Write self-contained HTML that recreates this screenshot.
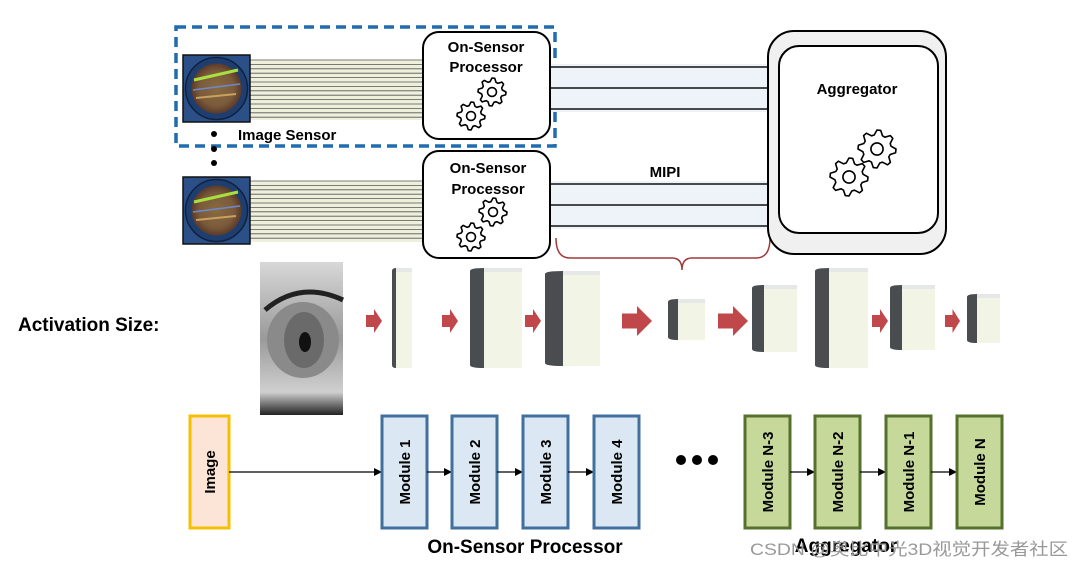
<!DOCTYPE html>
<html><head><meta charset="utf-8"><style>
html,body{margin:0;padding:0;background:#fff;}
svg{display:block;font-family:"Liberation Sans",Arial,sans-serif;}
</style></head><body>
<svg id="s" width="1080" height="566" viewBox="0 0 1080 566" xmlns="http://www.w3.org/2000/svg">
<defs>
<linearGradient id="eyeg" x1="0" y1="0" x2="0" y2="1">
<stop offset="0" stop-color="#d8d8d8"/><stop offset="0.5" stop-color="#9a9a9a"/><stop offset="0.85" stop-color="#cfcfcf"/><stop offset="1" stop-color="#222"/></linearGradient>
<radialGradient id="wafer" cx="0.5" cy="0.5" r="0.5">
<stop offset="0" stop-color="#8a6a40"/><stop offset="0.7" stop-color="#7a5a3a"/><stop offset="1" stop-color="#5a3a2a"/></radialGradient>
<marker id="ar" markerWidth="8" markerHeight="8" refX="7" refY="4" orient="auto" markerUnits="userSpaceOnUse"><path d="M0,0 L8,4 L0,8 z" fill="#000"/></marker>
</defs>

<g id="wires"></g>

<rect x="176" y="27" width="379" height="119" fill="none" stroke="#1f6db0" stroke-width="3.5" stroke-dasharray="10,6"/>

<g>
<rect x="183" y="55" width="67" height="67" fill="#2b4f87" stroke="#111" stroke-width="1.5"/>
<circle cx="216.5" cy="88.5" r="31" fill="#1f3e70" stroke="#0f2240" stroke-width="1.5"/>
<circle cx="216.5" cy="88.5" r="25" fill="url(#wafer)"/>
<path d="M194,80 L238,70" stroke="#a8e040" stroke-width="3"/>
<path d="M193,90 L240,84" stroke="#6a8ad0" stroke-width="1.5"/>
<path d="M196,98 L236,94" stroke="#c8a060" stroke-width="2"/>
<rect x="183" y="177" width="67" height="67" fill="#2b4f87" stroke="#111" stroke-width="1.5"/>
<circle cx="216.5" cy="210.5" r="31" fill="#1f3e70" stroke="#0f2240" stroke-width="1.5"/>
<circle cx="216.5" cy="210.5" r="25" fill="url(#wafer)"/>
<path d="M194,202 L238,192" stroke="#a8e040" stroke-width="3"/>
<path d="M193,212 L240,206" stroke="#6a8ad0" stroke-width="1.5"/>
<path d="M196,220 L236,216" stroke="#c8a060" stroke-width="2"/>
</g>
<circle cx="214" cy="134" r="3" fill="#000"/>
<circle cx="214" cy="149" r="3" fill="#000"/>
<circle cx="214" cy="163" r="3" fill="#000"/>
<text x="238" y="140" font-size="15" font-weight="bold">Image Sensor</text>

<rect x="550" y="64" width="220" height="48" fill="#eef3fa"/>
<rect x="550" y="181" width="220" height="48" fill="#eef3fa"/>
<g stroke="#111" stroke-width="1.5">
<line x1="550" y1="67" x2="770" y2="67"/><line x1="550" y1="88" x2="770" y2="88"/><line x1="550" y1="109" x2="770" y2="109"/>
<line x1="550" y1="184" x2="770" y2="184"/><line x1="550" y1="205" x2="770" y2="205"/><line x1="550" y1="226" x2="770" y2="226"/>
</g>
<text x="665" y="177" font-size="15" font-weight="bold" text-anchor="middle">MIPI</text>
<path d="M556,238 Q556,258 570,258 L672,258 Q682,258 682,270 Q682,258 692,258 L756,258 Q770,258 770,238" fill="none" stroke="#a03a3a" stroke-width="1.5"/>

<rect x="423" y="32" width="127" height="107" rx="16" fill="#fff" stroke="#000" stroke-width="2"/>
<text x="486" y="52" font-size="15" font-weight="bold" text-anchor="middle">On-Sensor</text>
<text x="486" y="72" font-size="15" font-weight="bold" text-anchor="middle">Processor</text>
<rect x="423" y="151" width="127" height="107" rx="16" fill="#fff" stroke="#000" stroke-width="2"/>
<text x="488" y="173" font-size="15" font-weight="bold" text-anchor="middle">On-Sensor</text>
<text x="488" y="194" font-size="15" font-weight="bold" text-anchor="middle">Processor</text>

<rect x="768" y="31" width="178" height="223" rx="26" fill="#f0f0f0" stroke="#000" stroke-width="2"/>
<rect x="779" y="46" width="159" height="187" rx="20" fill="#fff" stroke="#000" stroke-width="2"/>
<text x="857" y="94" font-size="15" font-weight="bold" text-anchor="middle">Aggregator</text>

<g id="gears"></g>

<text x="18" y="331" font-size="19" font-weight="bold">Activation Size:</text>
<rect x="260" y="262" width="83" height="153" fill="url(#eyeg)"/>
<ellipse cx="303" cy="340" rx="36" ry="38" fill="#8a8a8a"/>
<ellipse cx="304" cy="340" rx="20" ry="28" fill="#6a6a6a"/>
<ellipse cx="305" cy="342" rx="6" ry="10" fill="#111"/>
<path d="M265,310 Q300,280 343,300" stroke="#222" stroke-width="5" fill="none"/>
<g id="acts"></g>

<rect x="190" y="416" width="39" height="112" fill="#fce4d6" stroke="#f5c000" stroke-width="3"/>
<text transform="translate(215,472) rotate(-90)" font-size="15" font-weight="bold" text-anchor="middle">Image</text>
<line x1="229" y1="472" x2="381" y2="472" stroke="#000" stroke-width="1.3" marker-end="url(#ar)"/>
<g id="mods"></g>
<circle cx="681" cy="460" r="5" fill="#000"/><circle cx="697" cy="460" r="5" fill="#000"/><circle cx="713" cy="460" r="5" fill="#000"/>
<text x="525" y="553" font-size="19" font-weight="bold" text-anchor="middle">On-Sensor Processor</text>
<text x="846" y="552" font-size="19" font-weight="bold" text-anchor="middle">Aggregator</text>
<text x="750" y="555" font-size="17" fill="#999" textLength="318" lengthAdjust="spacingAndGlyphs">CSDN @奥比中光3D视觉开发者社区</text>
</svg>
<script>
var NS="http://www.w3.org/2000/svg";
function el(p,t,a){var e=document.createElementNS(NS,t);for(var k in a)e.setAttribute(k,a[k]);p.appendChild(e);return e;}
var w=document.getElementById('wires');
[[60,120],[181,242]].forEach(function(r){
 el(w,'rect',{x:250,y:r[0],width:173,height:r[1]-r[0],fill:'#eef0dc'});
 for(var y=r[0];y<=r[1];y+=4.4)el(w,'line',{x1:250,y1:y,x2:423,y2:y,stroke:'#555','stroke-width':0.8});
});
function gear(cx,cy,R){
 var n=8,d='',ri=R*0.75;
 for(var i=0;i<n*4;i++){
  var a=i/(n*4)*2*Math.PI, r=(i%4<2)?R:ri;
  d+=(i?'L':'M')+(cx+r*Math.cos(a)).toFixed(1)+','+(cy+r*Math.sin(a)).toFixed(1);
 }
 d+='Z';
 var g=document.getElementById('gears');
 el(g,'path',{d:d,fill:'#fff',stroke:'#000','stroke-width':1.6,'stroke-linejoin':'round'});
 el(g,'circle',{cx:cx,cy:cy,r:R*0.32,fill:'none',stroke:'#000','stroke-width':1.6});
}
gear(492,92,14);gear(471,116,14);gear(493,212,14);gear(471,237,14);
gear(877,149,19);gear(849,177,19);
var ac=document.getElementById('acts');
[[366,382],[442,458],[525,541],[622,652],[718,748],[836,852],[872,888],[945,960]].forEach(function(a){
 var w=a[1]-a[0],h=w>20?30:24,cy=321;
 el(ac,'path',{d:'M'+a[0]+','+(cy-h/4)+' L'+(a[0]+w*0.5)+','+(cy-h/4)+' L'+(a[0]+w*0.5)+','+(cy-h/2)+' L'+a[1]+','+cy+' L'+(a[0]+w*0.5)+','+(cy+h/2)+' L'+(a[0]+w*0.5)+','+(cy+h/4)+' L'+a[0]+','+(cy+h/4)+'Z',fill:'#c0474a'});
});
[[392,4,412,268,368],[470,14,522,268,368],[545,18,600,271,366],[668,10,705,299,340],[752,12,797,285,352],[815,14,868,268,368],[890,12,935,285,350],[967,10,1000,294,343]].forEach(function(b){
 el(ac,'rect',{x:b[0]+b[1]-2,y:b[3],width:b[2]-b[0]-b[1]+2,height:b[4]-b[3],fill:'#f2f4e6'});
 el(ac,'rect',{x:b[0]+b[1],y:b[3],width:b[2]-b[0]-b[1],height:4,fill:'#e6e8e8'});
 el(ac,'path',{d:'M'+b[0]+','+(b[3]+3)+' Q'+b[0]+','+b[3]+' '+(b[0]+b[1])+','+b[3]+' L'+(b[0]+b[1])+','+b[4]+' Q'+b[0]+','+b[4]+' '+b[0]+','+(b[4]-3)+'Z',fill:'#4a4d50'});
});
var m=document.getElementById('mods');
var blue=[[382,'Module 1'],[452,'Module 2'],[523,'Module 3'],[594,'Module 4']];
var green=[[745,'Module N-3'],[815,'Module N-2'],[886,'Module N-1'],[957,'Module N']];
function mod(x,t,f,s){
 el(m,'rect',{x:x,y:416,width:45,height:112,fill:f,stroke:s,'stroke-width':3});
 var tx=el(m,'text',{transform:'translate('+(x+28)+',472) rotate(-90)','font-size':15,'font-weight':'bold','text-anchor':'middle'});
 tx.textContent=t;
}
blue.forEach(function(b,i){mod(b[0],b[1],'#dbe8f3','#41709f');if(i<3)el(m,'line',{x1:b[0]+45,y1:472,x2:blue[i+1][0]-1,y2:472,stroke:'#000','stroke-width':1.3,'marker-end':'url(#ar)'});});
green.forEach(function(b,i){mod(b[0],b[1],'#c6d99b','#56702e');if(i<3)el(m,'line',{x1:b[0]+45,y1:472,x2:green[i+1][0]-1,y2:472,stroke:'#000','stroke-width':1.3,'marker-end':'url(#ar)'});});
</script>
</body></html>
